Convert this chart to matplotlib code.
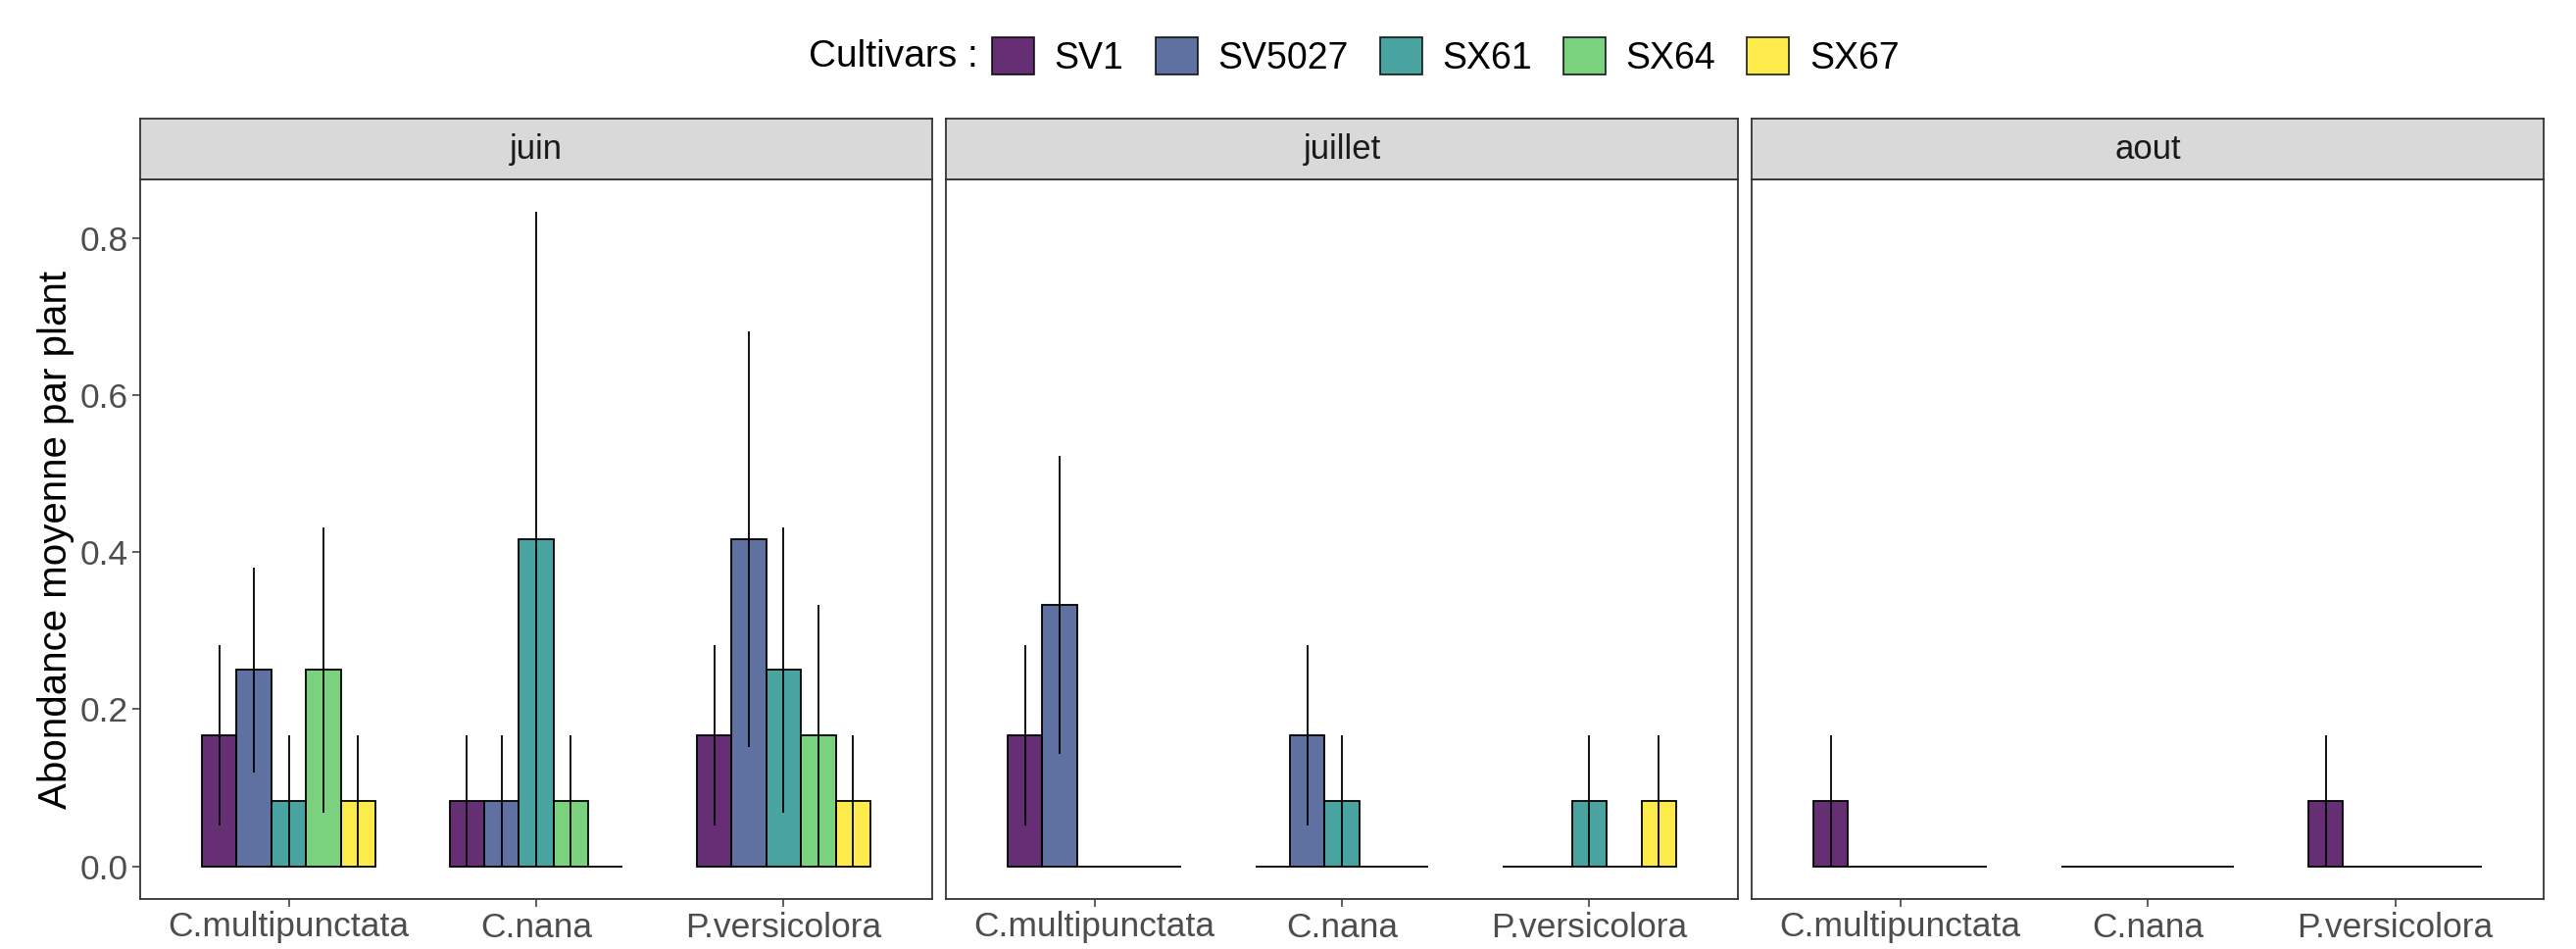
import numpy as np
import matplotlib.pyplot as plt
from matplotlib.patches import Patch

plt.rcParams['font.family'] = ['Liberation Sans', 'DejaVu Sans']

# Data: mean abundance per plant and standard deviation (rows = species, cols = cultivars)
months = ['juin', 'juillet', 'aout']
species = ['C.multipunctata', 'C.nana', 'P.versicolora']
cultivars = ['SV1', 'SV5027', 'SX61', 'SX64', 'SX67']
colors = ['#440154', '#3B528B', '#21908C', '#5DC863', '#FDE725']

mean_juin = [[0.1667, 0.25, 0.0833, 0.25, 0.0833],
             [0.0833, 0.0833, 0.4167, 0.0833, 0.0],
             [0.1667, 0.4167, 0.25, 0.1667, 0.0833]]
sd_juin = [[0.115, 0.131, 0.0833, 0.182, 0.0833],
           [0.0833, 0.0833, 0.4167, 0.0833, 0.0],
           [0.115, 0.265, 0.182, 0.1667, 0.0833]]

mean_juillet = [[0.1667, 0.3333, 0.0, 0.0, 0.0],
                [0.0, 0.1667, 0.0833, 0.0, 0.0],
                [0.0, 0.0, 0.0833, 0.0, 0.0833]]
sd_juillet = [[0.115, 0.19, 0.0, 0.0, 0.0],
              [0.0, 0.115, 0.0833, 0.0, 0.0],
              [0.0, 0.0, 0.0833, 0.0, 0.0833]]

mean_aout = [[0.0833, 0.0, 0.0, 0.0, 0.0],
             [0.0, 0.0, 0.0, 0.0, 0.0],
             [0.0833, 0.0, 0.0, 0.0, 0.0]]
sd_aout = [[0.0833, 0.0, 0.0, 0.0, 0.0],
           [0.0, 0.0, 0.0, 0.0, 0.0],
           [0.0833, 0.0, 0.0, 0.0, 0.0]]

means = [mean_juin, mean_juillet, mean_aout]
sds = [sd_juin, sd_juillet, sd_aout]

W, H = 2628, 968
fig = plt.figure(figsize=(W / 100, H / 100), dpi=100)

panel_left = [143, 965, 1787]
panel_w = 808
panel_top, panel_bottom, strip_top = 183, 917, 121
dark = '#333333'
bar_w = 0.14
xpos = np.arange(1, len(species) + 1)

for k, month in enumerate(months):
    ax = fig.add_axes([panel_left[k] / W, 1 - panel_bottom / H,
                       panel_w / W, (panel_bottom - panel_top) / H])
    m = np.array(means[k])
    s = np.array(sds[k])
    for j, cv in enumerate(cultivars):
        x = xpos + (j - 2) * bar_w
        ax.bar(x, m[:, j], width=bar_w, color=colors[j], alpha=0.82,
               edgecolor='none', zorder=2)
        ax.bar(x, m[:, j], width=bar_w, facecolor='none',
               edgecolor='black', linewidth=1.3, zorder=3)
        has_err = s[:, j] > 0
        ax.vlines(x[has_err], (m[:, j] - s[:, j])[has_err],
                  (m[:, j] + s[:, j])[has_err], color='black',
                  linewidth=1.3, zorder=4)
    ax.set_xlim(0.4, 3.6)
    ax.set_ylim(-0.0417, 0.875)
    ax.set_xticks(xpos)
    ax.set_xticklabels(species, fontsize=25.5, color='#4D4D4D')
    ax.set_yticks([0.0, 0.2, 0.4, 0.6, 0.8])
    if k == 0:
        ax.set_yticklabels(['0.0', '0.2', '0.4', '0.6', '0.8'],
                           fontsize=25.5, color='#4D4D4D')
        ax.set_ylabel('Abondance moyenne par plant', fontsize=29, labelpad=4)
    else:
        ax.tick_params(axis='y', left=False, labelleft=False)
    ax.tick_params(length=6, width=1.1, color=dark, pad=3)
    for sp in ax.spines.values():
        sp.set_color(dark)
        sp.set_linewidth(1.3)

    # facet strip
    sax = fig.add_axes([panel_left[k] / W, 1 - panel_top / H,
                        panel_w / W, (panel_top - strip_top) / H])
    sax.set_facecolor('#D9D9D9')
    sax.set_xticks([])
    sax.set_yticks([])
    for sp in sax.spines.values():
        sp.set_color(dark)
        sp.set_linewidth(1.3)
    sax.text(0.5, 0.5, month, ha='center', va='center', fontsize=25,
             color='#1A1A1A', transform=sax.transAxes)

# legend on top
handles = [Patch(facecolor=c, alpha=0.82, edgecolor='black', linewidth=1.3)
           for c in colors]
fig.text(998 / W, 1 - 58 / H, 'Cultivars :', ha='right', va='center',
         fontsize=28)
fig.legend(handles, cultivars, loc='center left',
           bbox_to_anchor=(1012 / W, 1 - 58 / H), ncol=5, frameon=False,
           fontsize=27, handlelength=1.15, handleheight=1.15,
           handletextpad=0.55, columnspacing=0.85, borderpad=0,
           borderaxespad=0)

fig.savefig('out.png', dpi=100, facecolor='white')
